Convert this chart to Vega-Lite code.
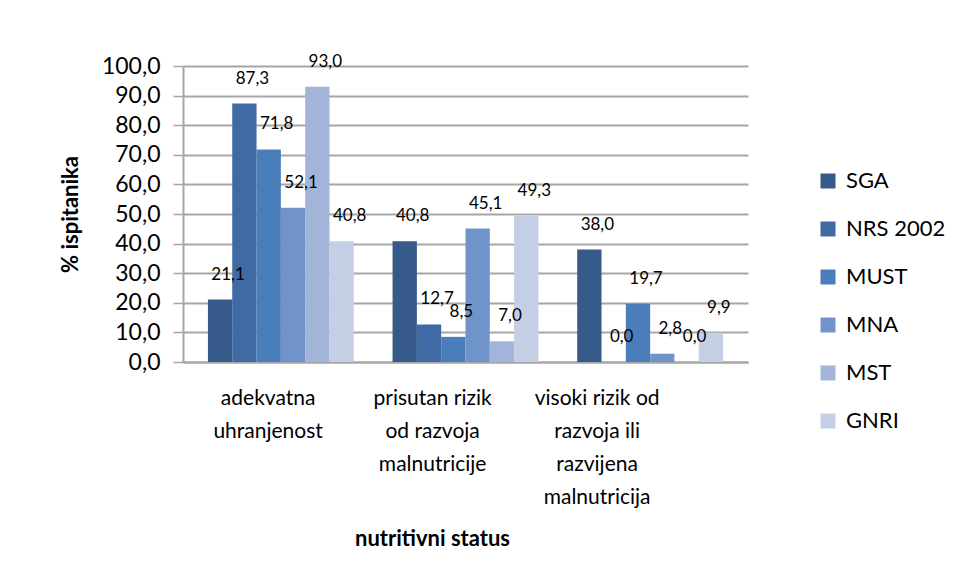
{
  "$schema": "https://vega.github.io/schema/vega-lite/v6.json",
  "width": 565,
  "height": 296,
  "autosize": {"type": "none"},
  "padding": {"left": 183, "top": 66, "right": 210, "bottom": 218},
  "background": "white",
  "config": {
    "font": "Lato",
    "view": {"stroke": null},
    "locale": {"number": {"decimal": ",", "thousands": ".", "grouping": [3], "currency": ["", " €"]}}
  },
  "data": {
    "values": [
      {"status": "adekvatna uhranjenost", "metoda": "SGA", "pct": 21.1},
      {"status": "adekvatna uhranjenost", "metoda": "NRS 2002", "pct": 87.3},
      {"status": "adekvatna uhranjenost", "metoda": "MUST", "pct": 71.8},
      {"status": "adekvatna uhranjenost", "metoda": "MNA", "pct": 52.1},
      {"status": "adekvatna uhranjenost", "metoda": "MST", "pct": 93.0},
      {"status": "adekvatna uhranjenost", "metoda": "GNRI", "pct": 40.8},
      {"status": "prisutan rizik od razvoja malnutricije", "metoda": "SGA", "pct": 40.8},
      {"status": "prisutan rizik od razvoja malnutricije", "metoda": "NRS 2002", "pct": 12.7},
      {"status": "prisutan rizik od razvoja malnutricije", "metoda": "MUST", "pct": 8.5},
      {"status": "prisutan rizik od razvoja malnutricije", "metoda": "MNA", "pct": 45.1},
      {"status": "prisutan rizik od razvoja malnutricije", "metoda": "MST", "pct": 7.0},
      {"status": "prisutan rizik od razvoja malnutricije", "metoda": "GNRI", "pct": 49.3},
      {"status": "visoki rizik od razvoja ili razvijena malnutricija", "metoda": "SGA", "pct": 38.0},
      {"status": "visoki rizik od razvoja ili razvijena malnutricija", "metoda": "NRS 2002", "pct": 0.0},
      {"status": "visoki rizik od razvoja ili razvijena malnutricija", "metoda": "MUST", "pct": 19.7},
      {"status": "visoki rizik od razvoja ili razvijena malnutricija", "metoda": "MNA", "pct": 2.8},
      {"status": "visoki rizik od razvoja ili razvijena malnutricija", "metoda": "MST", "pct": 0.0},
      {"status": "visoki rizik od razvoja ili razvijena malnutricija", "metoda": "GNRI", "pct": 9.9}
    ]
  },
  "layer": [
    {
      "encoding": {
        "x": {
          "field": "status", "type": "nominal", "sort": null,
          "scale": {"type": "band", "paddingInner": 0.21, "paddingOuter": 0.135},
          "axis": null
        },
        "xOffset": {
          "field": "metoda", "type": "nominal",
          "sort": ["SGA", "NRS 2002", "MUST", "MNA", "MST", "GNRI"],
          "scale": {"paddingInner": 0, "paddingOuter": 0}
        },
        "y": {
          "field": "pct", "type": "quantitative",
          "scale": {"domain": [0, 100], "nice": false},
          "axis": {
            "title": "% ispitanika",
            "titleFont": "Lato", "titleFontSize": 22, "titleFontWeight": "bold", "titleColor": "black",
            "titlePadding": 19,
            "values": [0, 10, 20, 30, 40, 50, 60, 70, 80, 90, 100],
            "format": ".1f", "labelOverlap": false,
            "labelFontSize": 23, "labelColor": "black", "labelPadding": 13,
            "tickSize": 10, "tickColor": "#A6A6A6", "tickWidth": 1.5,
            "domainColor": "#A6A6A6", "domainWidth": 2,
            "grid": true, "gridColor": "#A6A6A6", "gridWidth": 2
          }
        }
      },
      "layer": [
        {
          "mark": {"type": "bar"},
          "encoding": {
            "color": {
              "field": "metoda", "type": "nominal",
              "sort": ["SGA", "NRS 2002", "MUST", "MNA", "MST", "GNRI"],
              "scale": {
                "domain": ["SGA", "NRS 2002", "MUST", "MNA", "MST", "GNRI"],
                "range": ["#365A89", "#3F6AA3", "#4A7EBB", "#7094C9", "#A2B5D8", "#C4CEE4"]
              },
              "legend": {
                "title": null, "orient": "none", "legendX": 634, "legendY": 104,
                "padding": 0, "symbolType": "square", "symbolSize": 225,
                "symbolStrokeWidth": 0, "labelFontSize": 22, "labelColor": "black",
                "labelOffset": 7, "rowPadding": 26
              }
            }
          }
        },
        {
          "mark": {"type": "text", "fontSize": 17, "color": "black", "dx": 8, "dy": -25, "baseline": "middle"},
          "encoding": {
            "text": {"field": "pct", "type": "quantitative", "format": ".1f"}
          }
        }
      ]
    },
    {
      "mark": {"type": "point", "opacity": 0},
      "encoding": {
        "x": {
          "field": "status", "type": "nominal", "sort": null,
          "scale": {"type": "band", "paddingInner": 0, "paddingOuter": 0.2173, "align": 0.04},
          "axis": {
            "title": "nutritivni status",
            "titleFont": "Lato", "titleFontSize": 22, "titleFontWeight": "bold", "titleColor": "black",
            "titleAlign": "center", "titleAnchor": "start", "titleX": 249, "titleY": 176, "titleBaseline": "middle",
            "labelAngle": 0, "labelFontSize": 21, "labelColor": "black", "labelLineHeight": 33,
            "labelPadding": 25, "ticks": false,
            "domainColor": "#A6A6A6", "domainWidth": 2,
            "labelExpr": "datum.value == 'adekvatna uhranjenost' ? ['adekvatna', 'uhranjenost'] : datum.value == 'prisutan rizik od razvoja malnutricije' ? ['prisutan rizik', 'od razvoja', 'malnutricije'] : ['visoki rizik od', 'razvoja ili', 'razvijena', 'malnutricija']"
          }
        }
      }
    }
  ],
  "resolve": {"scale": {"x": "independent"}, "axis": {"x": "independent"}}
}
